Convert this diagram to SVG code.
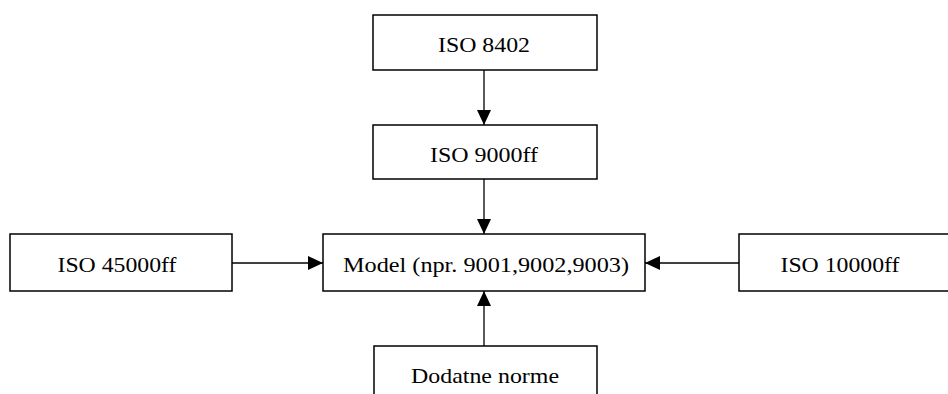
<svg xmlns="http://www.w3.org/2000/svg" width="948" height="394" viewBox="0 0 948 394">
<style>
.box{fill:#fff;stroke:#000;stroke-width:1.5}
.t{font-family:"Liberation Serif","Times New Roman",serif;font-size:22px;fill:#000;text-anchor:middle}
.c{stroke:#000;stroke-width:1.3;fill:none}
</style>
<defs>
<marker id="ah" markerWidth="16" markerHeight="16" refX="15" refY="7" orient="auto" markerUnits="userSpaceOnUse">
<path d="M0,0 L15,7 L0,14 Z" fill="#000"/>
</marker>
</defs>
<rect width="948" height="394" fill="#fff"/>
<g id="connectors">
<line class="c" x1="484" y1="70" x2="484" y2="125" marker-end="url(#ah)"/>
<line class="c" x1="484" y1="179" x2="484" y2="234" marker-end="url(#ah)"/>
<line class="c" x1="232" y1="263" x2="323" y2="263" marker-end="url(#ah)"/>
<line class="c" x1="739" y1="263" x2="645" y2="263" marker-end="url(#ah)"/>
<line class="c" x1="484" y1="346" x2="484" y2="291" marker-end="url(#ah)"/>
</g>
<g id="iso8402"><rect class="box" x="373" y="15" width="224" height="55"/><text class="t" x="484" y="52" textLength="92" lengthAdjust="spacingAndGlyphs">ISO 8402</text></g>
<g id="iso9000ff"><rect class="box" x="373" y="125" width="224" height="54"/><text class="t" x="484" y="162" textLength="108" lengthAdjust="spacingAndGlyphs">ISO 9000ff</text></g>
<g id="model"><rect class="box" x="323" y="234" width="322" height="57"/><text class="t" x="486" y="272" textLength="286" lengthAdjust="spacingAndGlyphs">Model (npr. 9001,9002,9003)</text></g>
<g id="iso45000ff"><rect class="box" x="10" y="234" width="222" height="57"/><text class="t" x="117" y="272" textLength="119" lengthAdjust="spacingAndGlyphs">ISO 45000ff</text></g>
<g id="iso10000ff"><rect class="box" x="739" y="234" width="220" height="57"/><text class="t" x="840" y="272" textLength="119" lengthAdjust="spacingAndGlyphs">ISO 10000ff</text></g>
<g id="dodatne"><rect class="box" x="374" y="346" width="223" height="60"/><text class="t" x="485" y="383" textLength="148" lengthAdjust="spacingAndGlyphs">Dodatne norme</text></g>
</svg>
